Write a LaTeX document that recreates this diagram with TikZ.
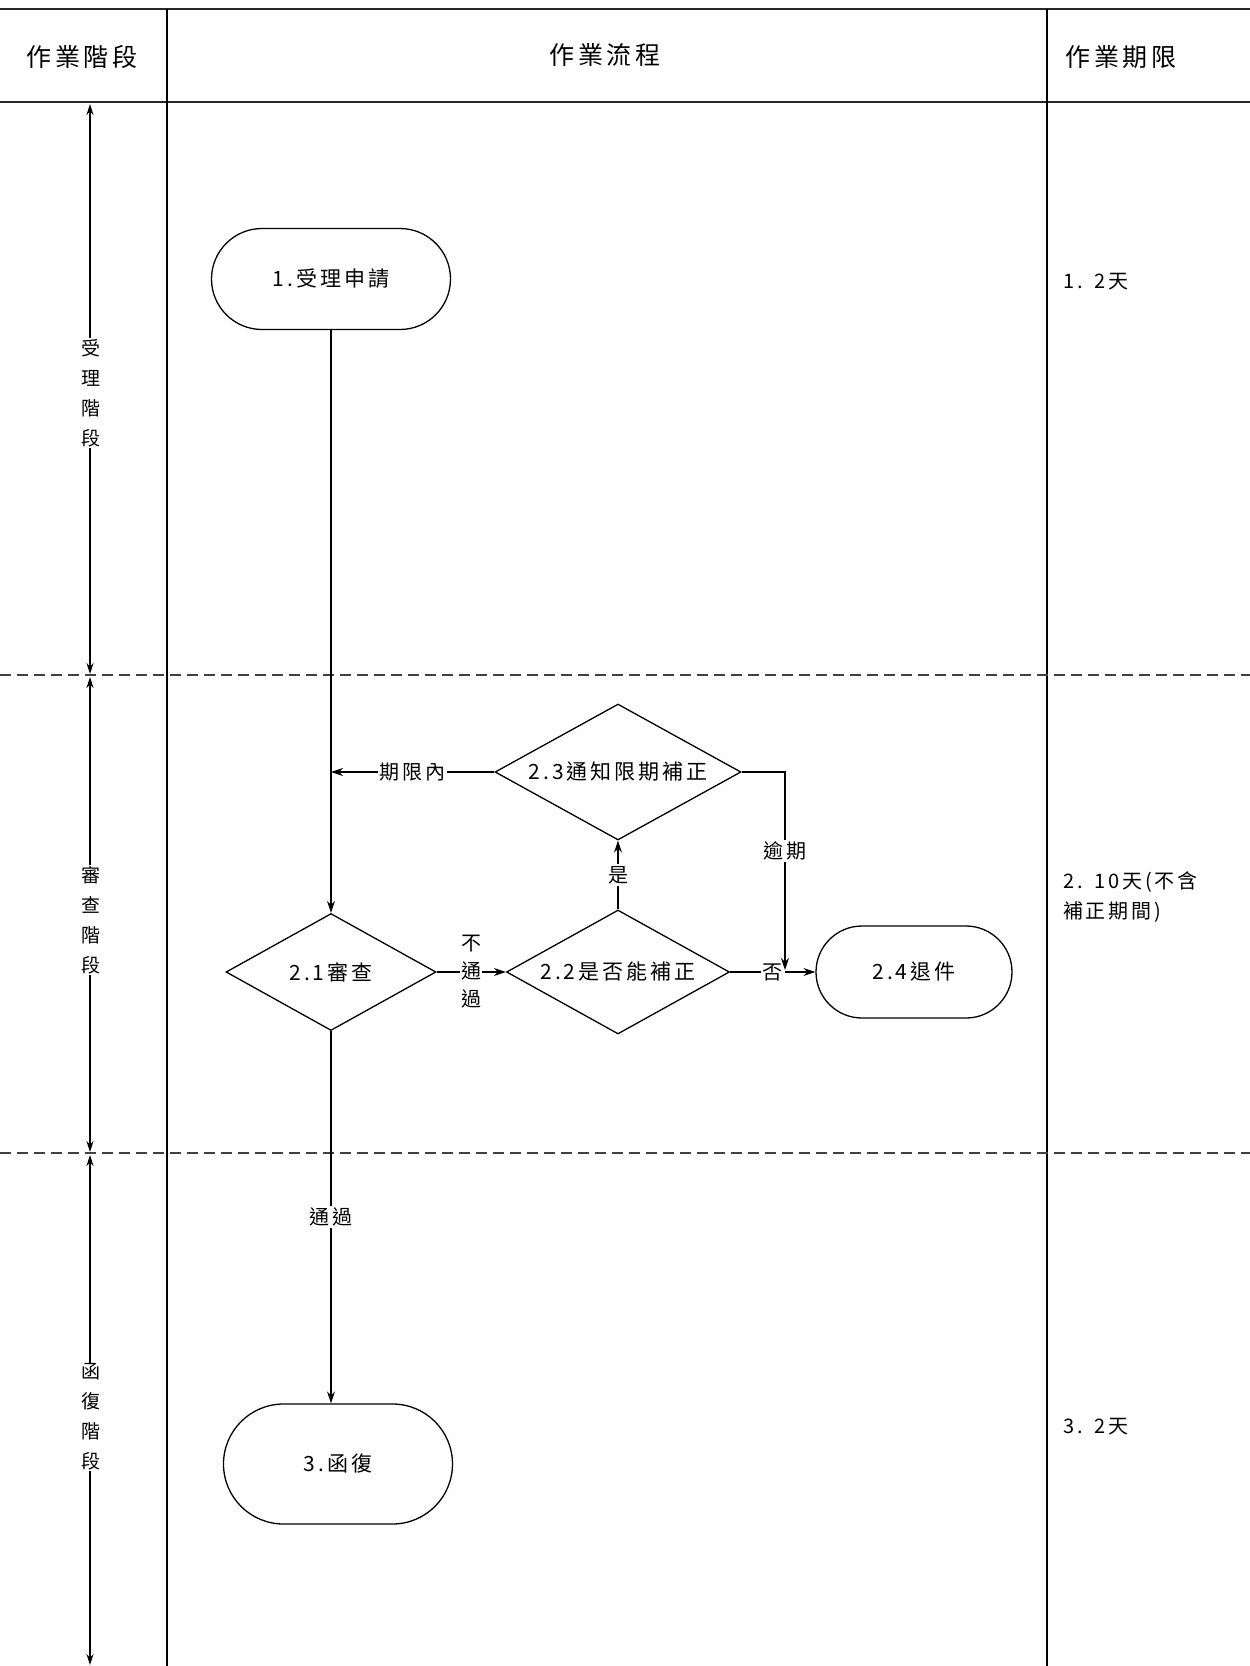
\documentclass[tikz,border=0pt]{standalone}
\usepackage{fontspec}
\setmainfont[LetterSpace=14]{Noto Sans CJK TC}
\usetikzlibrary{shapes.geometric,shapes.misc,arrows.meta,calc}
\begin{document}
\begin{tikzpicture}[x=1pt,y=-1pt,
  every node/.style={font=\fontsize{21}{25}\selectfont},
  stadium/.style={draw, line width=1.3pt, rounded rectangle, inner sep=0pt},
  decision/.style={draw, line width=1.3pt, diamond, shape aspect=1.8, inner sep=0pt},
  conn/.style={line width=1.3pt},
  arr/.style={conn, -{Stealth[length=12pt,width=8pt]}},
  stagearr/.style={line width=1.2pt, {Stealth[length=11pt,width=7pt]}-{Stealth[length=11pt,width=7pt]}},
  lbl/.style={fill=white, inner sep=2pt, font=\fontsize{20}{28}\selectfont},
  stagelbl/.style={fill=white, inner sep=1pt, align=center, font=\fontsize{19}{30}\selectfont},
  headtxt/.style={font=\fontsize{25}{29}\selectfont},
  limtxt/.style={anchor=west, align=left, inner sep=0pt, font=\fontsize{20}{30}\selectfont},
  frame/.style={line width=2.4pt, draw=black!85},
  colline/.style={line width=1.4pt},
  sep/.style={line width=1.6pt, draw=black!75, dash pattern=on 11pt off 6pt}
]
\useasboundingbox (0,0) rectangle (1250,1666);
\fill[white] (0,0) rectangle (1250,1666);

% table frame
\draw[frame] (0,9) -- (1250,9);
\draw[frame] (0,102) -- (1250,102);
\draw[colline] (167,9) -- (167,1666);
\draw[colline] (1047,9) -- (1047,1666);
\draw[sep] (0,675) -- (1250,675);
\draw[sep] (0,1153) -- (1250,1153);

% headers
\node[headtxt] (h1) at (82,57) {作業階段};
\node[headtxt] (h2) at (605,55) {作業流程};
\node[headtxt] (h3) at (1121,57) {作業期限};

% stage arrows
\coordinate (s0) at (90,104);
\coordinate (s1) at (90,674);
\coordinate (s2) at (90,677);
\coordinate (s3) at (90,1152);
\coordinate (s4) at (90,1155);
\coordinate (s5) at (90,1665);
\draw[stagearr] (s0) -- (s1);
\draw[stagearr] (s2) -- (s3);
\draw[stagearr] (s4) -- (s5);
\node[stagelbl] (st1) at (91,393) {受\\理\\階\\段};
\node[stagelbl] (st2) at (91,920) {審\\查\\階\\段};
\node[stagelbl] (st3) at (91,1417) {函\\復\\階\\段};

% flow nodes
\node[stadium, minimum width=239pt, minimum height=101pt] (n1) at (331,279) {1.受理申請};
\node[decision, minimum width=210pt, minimum height=117pt] (n21) at (331,972) {2.1審查};
\node[decision, minimum width=223pt, minimum height=124pt] (n22) at (618,972) {2.2是否能補正};
\node[decision, minimum width=246pt, minimum height=136pt] (n23) at (618,772) {2.3通知限期補正};
\node[stadium, minimum width=196pt, minimum height=92pt] (n24) at (914,972) {2.4退件};
\node[stadium, minimum width=229pt, minimum height=120pt] (n3) at (338,1464) {3.函復};
\coordinate (q) at (785,970);

% connectors
\draw[arr] (n1.south) -- (n21.north);
\draw[arr] (n23.west) -- (n23.west -| n1.south) node[lbl, midway] {期限內};
\draw[arr] (n22.north) -- (n23.south) node[lbl, midway] {是};
\draw[arr] (n21.east) -- (n22.west) node[lbl, midway, align=center, inner sep=1pt] {不\\通\\過};
\draw[arr] (n22.east) -- (n24.west) node[lbl, midway] {否};
\draw[arr] (n23.east) -| (q) node[lbl, pos=0.7] {逾期};
\draw[arr] (n21.south) -- (n21.south |- n3.north) node[lbl, midway] {通過};

% time limits
\node[limtxt] (t1) at (1063,282) {1.\hspace{12pt}2天};
\node[limtxt] (t2) at (1063,897) {2.\hspace{12pt}10天(不含\\補正期間)};
\node[limtxt] (t3) at (1063,1427) {3.\hspace{12pt}2天};
\end{tikzpicture}
\end{document}
